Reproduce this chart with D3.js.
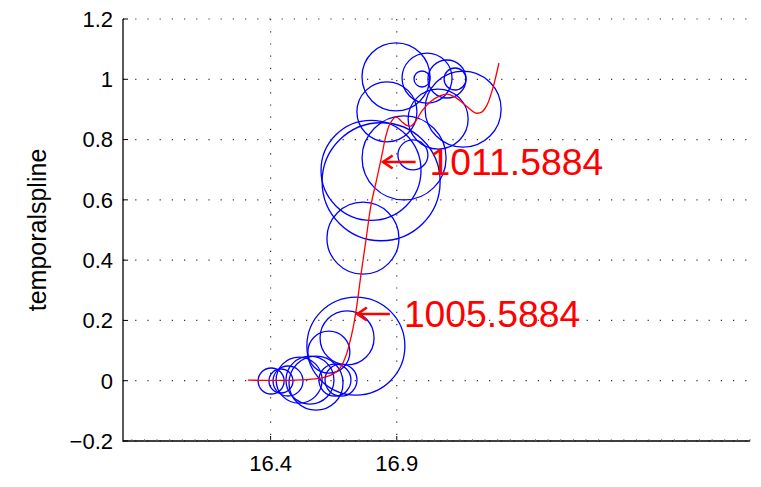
<!DOCTYPE html>
<html><head><meta charset="utf-8">
<script src="https://cdn.jsdelivr.net/npm/d3@7"></script>
<style>body{margin:0;background:#fff} svg{display:block}</style>
</head><body>
<script>
// ---- data ----
const yTicks = [-0.2, 0, 0.2, 0.4, 0.6, 0.8, 1, 1.2];
const xTicks = [16.4, 16.9];
const xTickLabels = ["16.4", "16.9"];
const yLabel = "temporalspline";

const bubbleX = [16.402,16.441,16.469,16.513,16.556,16.580,16.655,16.679,16.631,16.703,16.738,
                 16.897,17.020,17.000,17.099,17.131,17.163,16.861,17.064,16.929,16.964,16.798,16.838,16.766];
const bubbleY = [-0.001,-0.001,-0.001,0.002,0.002,-0.008,0.002,0.002,0.095,0.142,0.115,
                 1.008,1.004,1.001,1.001,1.001,0.901,0.892,0.868,0.739,0.749,0.698,0.660,0.473];
const bubbleSize = [1.3,1.2,1.5,2.3,2.4,2.7,1.6,1.6,2.1,2.7,4.9,
                    3.4,2.5,0.8,1.9,1.1,3.8,3.0,3.0,4.2,1.5,5.0,5.9,3.6];

const splineX = [16.310,16.398,16.497,16.576,16.616,16.647,16.675,16.695,16.711,16.727,16.742,16.758,
                 16.778,16.798,16.818,16.838,16.857,16.873,16.897,16.917,16.937,16.956,16.976,17.000,
                 17.032,17.071,17.099,17.131,17.171,17.214,17.238,17.258,17.281,17.305];
const splineY = [0.002,0.001,0.002,0.006,0.012,0.022,0.042,0.075,0.118,0.175,0.251,0.351,
                 0.467,0.583,0.659,0.736,0.812,0.852,0.875,0.862,0.848,0.845,0.862,0.895,
                 0.925,0.945,0.951,0.941,0.915,0.888,0.892,0.915,0.971,1.054];

const annotX = [16.840, 16.738];
const annotY = [0.7256, 0.2213];
const annotLabel = ["1011.5884", "1005.5884"];

// ---- layout ----
const W = 761, H = 487;
const L = 123, R = 750, T = 19, B = 441;
const font = "'Liberation Sans', Arial, Helvetica, sans-serif";

const x = d3.scaleLinear().domain([15.815, 18.300]).range([L, R]);
const y = d3.scaleLinear().domain([-0.2, 1.2]).range([B, T]);
const r = d3.scaleLinear().domain([0, 1]).range([0, 10]);

const svg = d3.select("body").append("svg").attr("width", W).attr("height", H);

// grid
const grid = svg.append("g").attr("stroke", "#333").attr("stroke-width", 1.2)
  .attr("stroke-dasharray", "1.2,11");
grid.selectAll("line.h").data(yTicks).join("line")
  .attr("x1", L).attr("x2", R).attr("y1", d => y(d)).attr("y2", d => y(d));
grid.selectAll("line.v").data(xTicks).join("line")
  .attr("x1", d => x(d)).attr("x2", d => x(d)).attr("y1", T).attr("y2", B);

// bubbles
const bubbles = d3.range(bubbleX.length).map(i => ({x: bubbleX[i], y: bubbleY[i], s: bubbleSize[i]}));
svg.append("g").selectAll("circle").data(bubbles).join("circle")
  .attr("cx", d => x(d.x)).attr("cy", d => y(d.y)).attr("r", d => r(d.s))
  .attr("fill", "none").attr("stroke", "#0000ff").attr("stroke-width", 1.3);

// spline
const pts = splineX.map((v, i) => [v, splineY[i]]);
svg.append("path").datum(pts)
  .attr("d", d3.line().x(d => x(d[0])).y(d => y(d[1])).curve(d3.curveCatmullRom.alpha(0.5)))
  .attr("fill", "none").attr("stroke", "#ff0000").attr("stroke-width", 1.3);

// annotations
annotX.forEach((ax, i) => {
  const px = x(ax), py = y(annotY[i]);
  const g = svg.append("g").attr("stroke", "#ff0000").attr("stroke-width", 2.6)
    .attr("fill", "none").attr("stroke-linecap", "butt");
  g.append("path").attr("d", `M${px+1},${py} L${px+34},${py}`);
  g.append("path").attr("d", `M${px+11},${py-6.5} L${px+1.5},${py} L${px+11},${py+6.5}`);
  svg.append("text").attr("x", px + 48).attr("y", py + 13)
    .attr("font-family", font).attr("font-size", 37.3).attr("fill", "#ff0000")
    .text(annotLabel[i]);
});

// axes
const ax = svg.append("g").attr("stroke", "#000").attr("fill", "none");
ax.append("path").attr("d", `M${L},${T} L${L},${B} L${R},${B}`).attr("stroke-width", 1.3);
ax.selectAll("line.yt").data(yTicks).join("line")
  .attr("x1", L).attr("x2", L + 5).attr("y1", d => y(d)).attr("y2", d => y(d)).attr("stroke-width", 1);
ax.selectAll("line.xt").data(xTicks).join("line")
  .attr("x1", d => x(d)).attr("x2", d => x(d)).attr("y1", B).attr("y2", B - 5).attr("stroke-width", 1);
const minor = d3.range(15.85, 18.3, 0.05);
ax.selectAll("line.mt").data(minor).join("line")
  .attr("x1", d => x(d)).attr("x2", d => x(d)).attr("y1", B).attr("y2", B - 2)
  .attr("stroke", "#666").attr("stroke-width", 0.8);

// tick labels
svg.append("g").selectAll("text").data(yTicks).join("text")
  .attr("x", L - 10).attr("y", d => y(d)).attr("dy", "0.36em")
  .attr("text-anchor", "end").attr("font-family", font).attr("font-size", 22)
  .text(d => d < 0 ? "\u2212" + Math.abs(d) : String(d));
svg.append("g").selectAll("text").data(xTicks).join("text")
  .attr("x", d => x(d)).attr("y", 471)
  .attr("text-anchor", "middle").attr("font-family", font).attr("font-size", 22)
  .text((d, i) => xTickLabels[i]);

// y label
svg.append("text").attr("transform", `translate(46,${(T + B) / 2}) rotate(-90)`)
  .attr("text-anchor", "middle").attr("font-family", font).attr("font-size", 25)
  .text(yLabel);
</script>
</body></html>
